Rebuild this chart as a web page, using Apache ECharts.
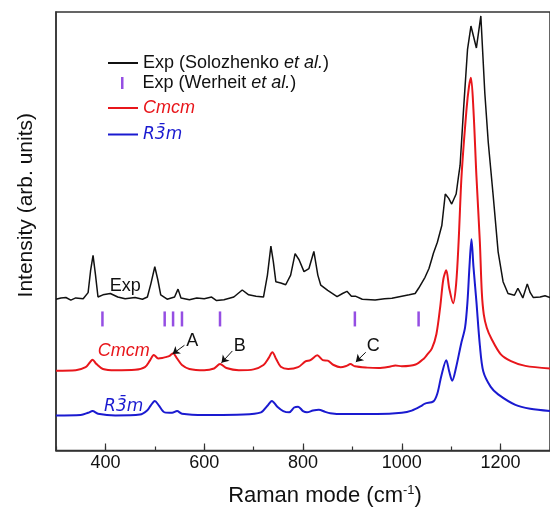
<!DOCTYPE html>
<html>
<head>
<meta charset="utf-8">
<script src="https://cdn.jsdelivr.net/npm/echarts@6/dist/echarts.min.js"></script>
<style>
  html, body { margin: 0; padding: 0; background: #fff; }
  #raman { width: 550px; height: 512px; }
</style>
</head>
<body>
<div id="raman"></div>
<script>
// spectra: [wavenumber, intensity(offset, arb.)]
var expSolozhenko = [
  [300, 34.5], [310, 34.8], [320, 34.9], [330, 34.3], [340, 34.8], [355, 34.6], [365, 36], [370, 41],
  [375, 44.5], [380, 40], [385, 35], [395, 35.5], [410, 35.8], [425, 35], [440, 34.6], [460, 34.9],
  [475, 34.5], [485, 35], [492, 38], [500, 41.9], [506, 39], [512, 35.5], [525, 34.5], [540, 35],
  [547, 36.8], [553, 34.8], [570, 34.4], [585, 34.8], [600, 34.6], [615, 35], [625, 34.2], [640, 34.4],
  [660, 35], [677, 36.6], [690, 35.5], [705, 35.2], [720, 35], [728, 40], [735, 46.6], [740, 43],
  [745, 38.5], [755, 38.2], [765, 37.8], [775, 40], [784, 44.9], [792, 43.5], [802, 40.8], [812, 41.5],
  [822, 45.4], [830, 40], [836, 37.7], [850, 36.5], [869, 35.1], [880, 35.8], [889, 36.3], [898, 35.2],
  [906, 35.2], [920, 34.5], [946, 34.3], [965, 34.6], [980, 34.7], [1000, 35.2], [1015, 35.5], [1027, 35.8],
  [1034, 37], [1047, 39.5], [1055, 41.5], [1061, 43.8], [1064, 45], [1072, 47.5], [1081, 51.3], [1088, 58.5],
  [1095, 57.5], [1101, 56.2], [1110, 58.5], [1115, 62.7], [1118, 65], [1125, 77.8], [1133, 91.4], [1140, 96.8],
  [1151, 91.8], [1160, 99.1], [1168, 81.6], [1175, 70.3], [1185, 58.1], [1195, 45.3], [1205, 38.5], [1215, 35.8],
  [1228, 35.4], [1235, 37], [1245, 34.8], [1254, 38], [1260, 36], [1266, 34.9], [1280, 35], [1290, 35.3],
  [1300, 34.9]
];

var expWerheit = [394, 520, 537, 555, 632, 905, 1034];
var werheitLevel = 30;

var cmcm = [
  [300, 18.2], [340, 18.3], [360, 19], [368, 20], [374, 20.7], [382, 19.7], [395, 18.6], [420, 18.3],
  [460, 18.4], [480, 19], [490, 20.5], [498, 21.8], [507, 21], [515, 21.1], [522, 21.3], [530, 21.6],
  [537, 22.2], [545, 21], [555, 19.5], [570, 18.6], [600, 18.3], [620, 18.7], [632, 19.7], [645, 18.8],
  [670, 18.3], [700, 18.5], [720, 19.5], [730, 21], [738, 22.4], [746, 20.8], [755, 19.1], [770, 18.6],
  [790, 19], [805, 20.3], [815, 20.6], [829, 21.7], [840, 20.6], [850, 20.5], [862, 19.5], [876, 19],
  [888, 19.3], [896, 19.7], [905, 19.2], [930, 18.9], [953, 18.8], [975, 19.1], [987, 19.4], [1000, 19.2],
  [1028, 19.6], [1045, 21], [1051, 21.8], [1061, 23.3], [1070, 26.5], [1078, 33], [1084, 39], [1090, 41.1],
  [1096, 37], [1104, 33.6], [1110, 38], [1115, 47.6], [1121, 62.7], [1131, 77.8], [1136, 83], [1140, 85],
  [1145, 77.8], [1151, 62.7], [1158, 47.6], [1162, 36], [1166, 31], [1172, 28], [1181, 25.6], [1200, 22],
  [1221, 20.4], [1250, 19.3], [1300, 18.7]
];

var r3m = [
  [300, 8.0], [350, 8.1], [365, 8.6], [374, 9.0], [385, 8.4], [420, 8.0], [470, 8.2], [485, 9.2],
  [492, 10.3], [500, 11.3], [508, 10.3], [520, 8.7], [535, 8.6], [545, 9.0], [555, 8.4], [600, 8.1],
  [680, 8.2], [715, 8.7], [728, 10.2], [737, 11.3], [748, 10], [760, 9], [772, 8.7], [782, 9.8],
  [790, 10], [800, 9], [808, 8.7], [820, 9.1], [832, 9.3], [845, 8.8], [855, 8.5], [880, 8.3],
  [950, 8.3], [1000, 8.6], [1020, 9.1], [1040, 10.2], [1047, 10.7], [1064, 11.2], [1072, 13], [1080, 17],
  [1090, 20.6], [1096, 18], [1102, 15.9], [1110, 19], [1120, 24.3], [1128, 28], [1133, 34], [1137, 42],
  [1141, 48.2], [1145, 42], [1151, 34], [1158, 24], [1165, 18], [1180, 14.5], [1195, 12.8], [1230, 10.4],
  [1260, 9.5], [1300, 9.0]
];

// annotated modes A, B, C on the Cmcm curve: [label pos], [arrow tail], [arrow head]
var modeNames = ['A', 'B', 'C'];
var modeLabelAt = [[576, 24.9], [672, 23.8], [942, 23.8]];
var modeArrowFrom = [[560, 24.0], [657, 22.7], [927, 22.4]];
var modeArrowTo = [[536, 22.0], [635, 20.0], [907, 20.2]];

var names = ['Exp (Solozhenko et al.)', 'Exp (Werheit et al.)', 'Cmcm', 'R3\u0304m'];

var font = 'Liberation Sans, Arial, sans-serif';
var markFont = 'DejaVu Sans, sans-serif';
var lineIcon = 'path://M0,0 L30,0 L30,2 L0,2 Z';

function textMark(x, y, txt, color, italic, fam, size) {
  return {
    coord: [x, y], value: txt, symbolSize: 0,
    label: {
      show: true, position: 'inside', formatter: txt, color: color,
      fontFamily: fam || font, fontSize: size || 18, fontStyle: italic ? 'italic' : 'normal'
    }
  };
}

function legendFmt(name) {
  return name.replace('et al.', '{i|et al.}');
}

var chart = echarts.init(document.getElementById('raman'));

var arrowLines = modeNames.map(function (n, i) {
  return [{ coord: modeArrowFrom[i] }, { coord: modeArrowTo[i] }];
});
var letterMarks = modeNames.map(function (n, i) {
  return textMark(modeLabelAt[i][0], modeLabelAt[i][1], n, '#111', false);
});

var option = {
  animation: false,
  backgroundColor: '#fff',
  textStyle: { fontFamily: font },
  grid: {
    left: 56, top: 12, width: 496, height: 441,
    show: true, borderColor: '#333', borderWidth: 1.5
  },
  legend: [
    {
      data: [names[0]], left: 103, top: 49, orient: 'vertical',
      icon: lineIcon, itemWidth: 30, itemHeight: 2,
      formatter: legendFmt,
      textStyle: { fontSize: 18, color: '#111', rich: { i: { fontSize: 18, fontStyle: 'italic', color: '#111' } } }
    },
    {
      data: [names[1]], left: 116, top: 69, orient: 'vertical',
      icon: 'rect', itemWidth: 2.5, itemHeight: 12,
      formatter: legendFmt,
      textStyle: { fontSize: 18, color: '#111', padding: [0, 0, 0, 14], rich: { i: { fontSize: 18, fontStyle: 'italic', color: '#111' } } }
    },
    {
      data: [names[2]], left: 103, top: 94, orient: 'vertical',
      icon: lineIcon, itemWidth: 30, itemHeight: 2,
      textStyle: { fontSize: 18, color: '#e8161b', fontStyle: 'italic' }
    },
    {
      data: [names[3]], left: 103, top: 121, orient: 'vertical',
      icon: lineIcon, itemWidth: 30, itemHeight: 2,
      textStyle: { fontSize: 17, color: '#1a1ad0', fontStyle: 'italic', fontFamily: markFont }
    }
  ],
  graphic: [{
    type: 'text', left: 16, top: 113,
    rotation: Math.PI / 2,
    style: { text: 'Intensity (arb. units)', font: '21px ' + font, fill: '#111' },
    z: 10
  }],
  xAxis: [
    {
      type: 'value', min: 300, max: 1300, splitNumber: 5,
      name: 'Raman mode (cm{s|-1})', nameLocation: 'middle', nameGap: 33,
      nameTextStyle: {
        fontSize: 22, color: '#111', padding: [0, 0, 0, 44],
        rich: { s: { fontSize: 13, verticalAlign: 'top', padding: [0, 0, 12, 0], color: '#111' } }
      },
      axisLine: { lineStyle: { color: '#333', width: 1.5 } },
      axisTick: { inside: true, length: 7, lineStyle: { color: '#333', width: 1.2 } },
      axisLabel: {
        fontSize: 18, color: '#111', margin: 4, showMinLabel: false, showMaxLabel: false,
        formatter: function (v) { return String(v); }
      },
      splitLine: { show: false }
    },
    {
      type: 'value', min: 300, max: 1300, interval: 100, position: 'bottom',
      axisLine: { show: false },
      axisTick: { inside: true, length: 4, lineStyle: { color: '#333', width: 1.2 } },
      axisLabel: { show: false },
      splitLine: { show: false }
    }
  ],
  yAxis: {
    type: 'value', min: 0, max: 100,
    axisLine: { show: true, lineStyle: { color: '#333', width: 1.5 } },
    axisTick: { show: false },
    axisLabel: { show: false },
    splitLine: { show: false }
  },
  series: [
    {
      name: names[0], type: 'line', data: expSolozhenko, symbol: 'none',
      lineStyle: { color: '#111', width: 1.5 }, itemStyle: { color: '#111' },
      markPoint: { data: [textMark(440, 37.6, 'Exp', '#111', false)] }
    },
    {
      name: names[1], type: 'scatter',
      data: expWerheit.map(function (x) { return [x, werheitLevel]; }),
      symbol: 'rect', symbolSize: [2.5, 15],
      itemStyle: { color: '#7a22dc' }
    },
    {
      name: names[2], type: 'line', data: cmcm, symbol: 'none', smooth: 0.3,
      lineStyle: { color: '#e8161b', width: 2 }, itemStyle: { color: '#e8161b' },
      markPoint: { data: [textMark(437, 22.7, 'Cmcm', '#e8161b', true)].concat(letterMarks) },
      markLine: {
        silent: true, symbol: ['none', 'arrow'], symbolSize: 7,
        label: { show: false },
        lineStyle: { color: '#111', width: 1, type: 'solid' },
        data: arrowLines
      }
    },
    {
      name: names[3], type: 'line', data: r3m, symbol: 'none', smooth: 0.3,
      lineStyle: { color: '#1a1ad0', width: 2 }, itemStyle: { color: '#1a1ad0' },
      markPoint: { data: [textMark(437, 10.0, 'R3\u0304m', '#1a1ad0', true, markFont, 17)] }
    }
  ]
};

chart.setOption(option);
</script>
</body>
</html>
